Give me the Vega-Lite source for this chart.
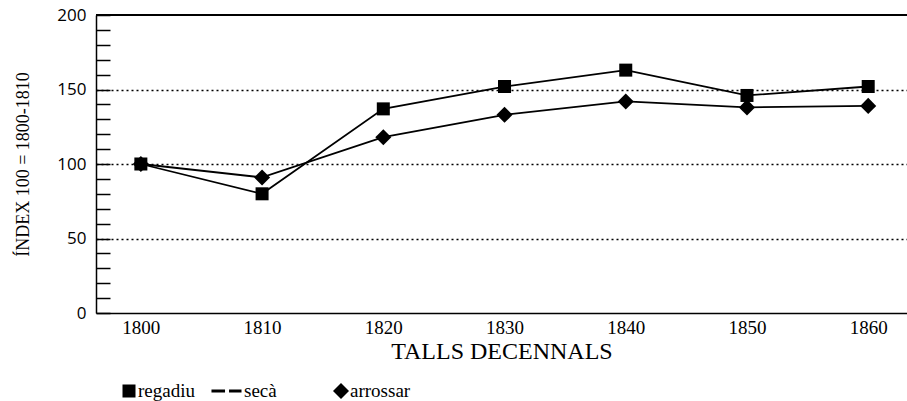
{
  "$schema": "https://vega.github.io/schema/vega-lite/v6.json",
  "width": 811,
  "height": 298,
  "autosize": "none",
  "padding": {"left": 96, "top": 15, "right": 0, "bottom": 88},
  "background": "white",
  "config": {
    "view": {"stroke": null},
    "font": "Liberation Serif",
    "axis": {"domainColor": "black", "domainWidth": 1.5, "labelColor": "black", "titleColor": "black", "titleFontWeight": "normal"},
    "legend": {"labelColor": "black", "labelFont": "Liberation Serif", "labelFontSize": 19}
  },
  "data": {
    "values": [
      {"any": 1800, "serie": "regadiu", "v": 100},
      {"any": 1810, "serie": "regadiu", "v": 80},
      {"any": 1820, "serie": "regadiu", "v": 137},
      {"any": 1830, "serie": "regadiu", "v": 152},
      {"any": 1840, "serie": "regadiu", "v": 163},
      {"any": 1850, "serie": "regadiu", "v": 146},
      {"any": 1860, "serie": "regadiu", "v": 152},
      {"any": 1800, "serie": "arrossar", "v": 100},
      {"any": 1810, "serie": "arrossar", "v": 91},
      {"any": 1820, "serie": "arrossar", "v": 118},
      {"any": 1830, "serie": "arrossar", "v": 133},
      {"any": 1840, "serie": "arrossar", "v": 142},
      {"any": 1850, "serie": "arrossar", "v": 138},
      {"any": 1860, "serie": "arrossar", "v": 139}
    ]
  },
  "encoding": {
    "x": {
      "field": "any", "type": "quantitative",
      "scale": {"domain": [1796.3, 1863.2], "nice": false, "zero": false},
      "axis": {
        "values": [1800, 1810, 1820, 1830, 1840, 1850, 1860],
        "format": "d", "ticks": false, "grid": false,
        "labelFontSize": 19, "labelPadding": 5, "labelFont": "Liberation Serif", "labelColor": "black",
        "title": "TALLS DECENNALS", "titleFontSize": 24, "titleFont": "Liberation Serif", "titleColor": "black",
        "titlePadding": 2
      }
    },
    "y": {
      "field": "v", "type": "quantitative",
      "scale": {"domain": [0, 200], "nice": false},
      "axis": {
        "values": [0, 10, 20, 30, 40, 50, 60, 70, 80, 90, 100, 110, 120, 130, 140, 150, 160, 170, 180, 190, 200],
        "labelExpr": "datum.value % 50 == 0 ? datum.label : ''",
        "tickSize": -14, "tickColor": "black", "tickWidth": 1.5,
        "labelFontSize": 17, "labelFont": "Open Sans", "labelPadding": 24, "labelColor": "black",
        "grid": true, "gridColor": "black", "gridDash": [2, 3], "gridWidth": 1.3,
        "gridOpacity": {"condition": {"test": "datum.value == 50 || datum.value == 100 || datum.value == 150", "value": 1}, "value": 0},
        "title": "ÍNDEX 100 = 1800-1810", "titleFontSize": 18, "titleFont": "Liberation Serif", "titleColor": "#000000", "titlePadding": 24
      }
    }
  },
  "layer": [
    {
      "mark": {"type": "rule", "color": "black", "strokeWidth": 1.5},
      "encoding": {"y": {"datum": 200}, "x": null}
    },
    {
      "mark": {"type": "line", "color": "black", "strokeWidth": 1.8},
      "encoding": {"detail": {"field": "serie"}}
    },
    {
      "mark": {"type": "point", "filled": true, "color": "black", "opacity": 1, "size": 470},
      "encoding": {
        "shape": {
          "field": "serie", "type": "nominal",
          "scale": {
            "domain": ["regadiu", "secà", "arrossar"],
            "range": [
              "M-0.6,-0.6H0.6V0.6H-0.6Z",
              "M-2.17,-0.14H-0.92V0.14H-2.17Z M-0.55,-0.14H0.6V0.14H-0.55Z",
              "M0,-0.74L0.74,0L0,0.74L-0.74,0Z"
            ]
          },
          "legend": {
            "title": null, "orient": "none", "direction": "horizontal",
            "legendX": 22, "legendY": 365, "columnPadding": 12, "labelOffset": -2,
            "gridAlign": "all",
            "symbolSize": 470, "symbolFillColor": "black", "symbolStrokeWidth": 0,
            "labelFontSize": 19, "labelColor": "black"
          }
        }
      }
    }
  ]
}
